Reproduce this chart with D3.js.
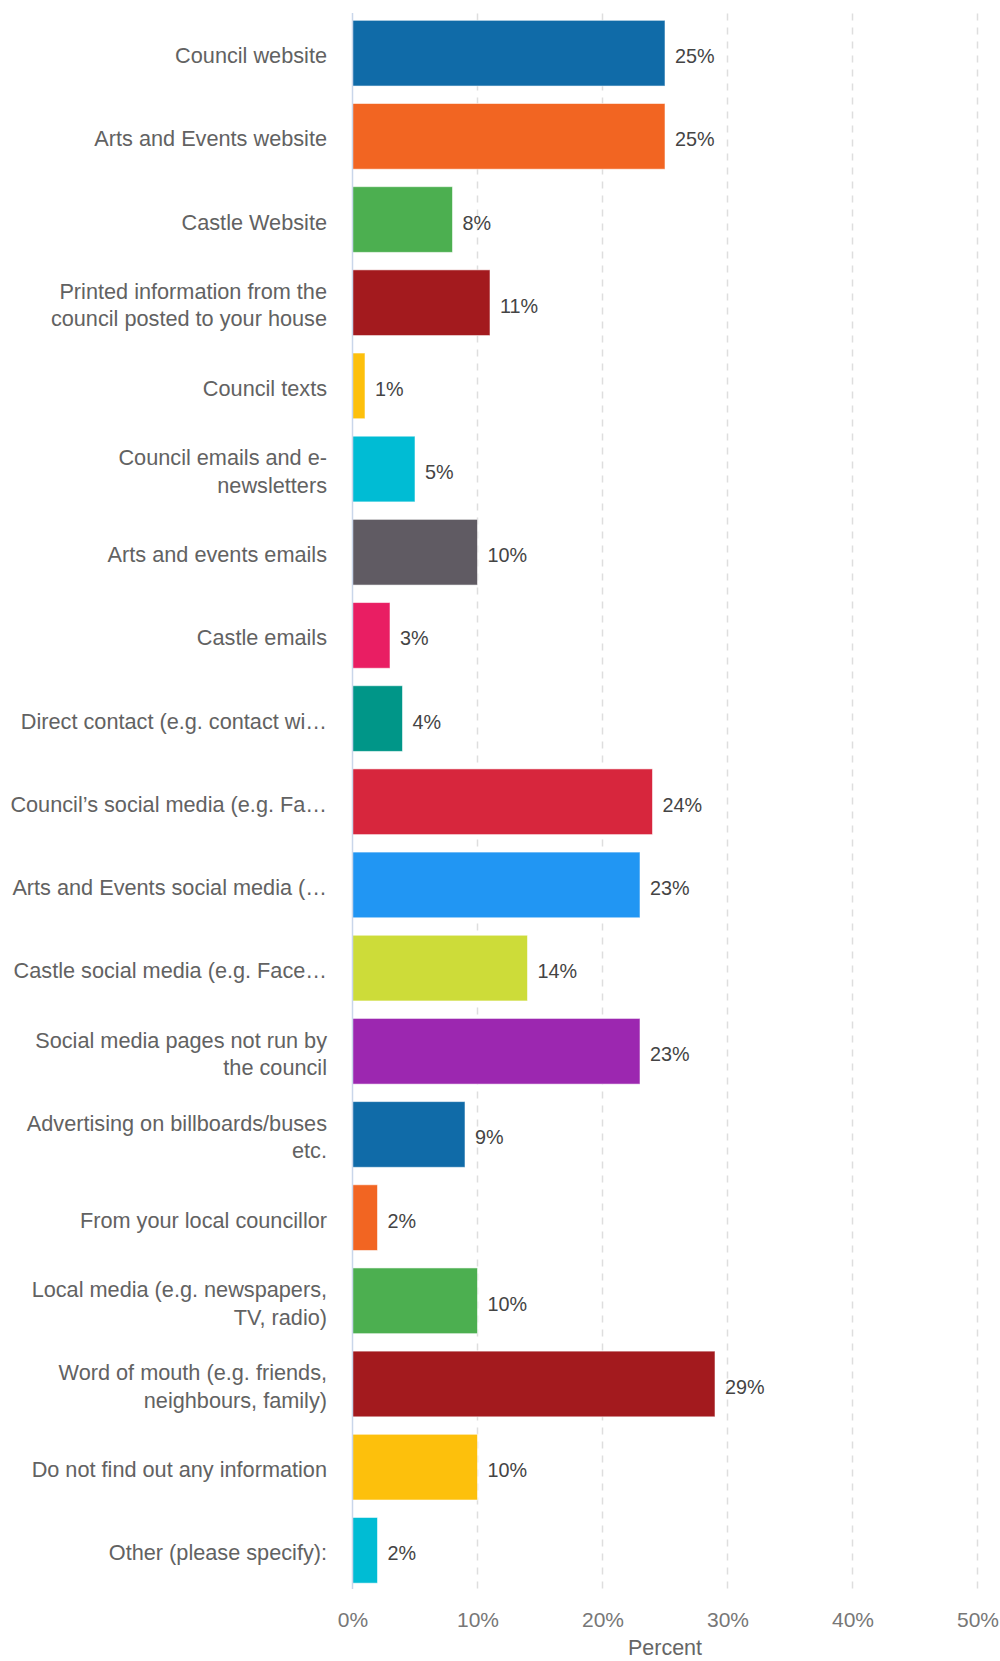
<!DOCTYPE html>
<html>
<head>
<meta charset="utf-8">
<script src="https://cdn.jsdelivr.net/npm/d3@7"></script>
<style>
  html, body { margin: 0; padding: 0; background: #fff; }
  svg { display: block; font-family: "Liberation Sans", Arial, sans-serif; }
</style>
</head>
<body>
<svg id="chart" width="1000" height="1661"></svg>
<script>
// Survey: where respondents find out information (percent of respondents)
const categories = [
  "Council website",
  "Arts and Events website",
  "Castle Website",
  "Printed information from the\ncouncil posted to your house",
  "Council texts",
  "Council emails and e-\nnewsletters",
  "Arts and events emails",
  "Castle emails",
  "Direct contact (e.g. contact wi\u2026",
  "Council\u2019s social media (e.g. Fa\u2026",
  "Arts and Events social media (\u2026",
  "Castle social media (e.g. Face\u2026",
  "Social media pages not run by\nthe council",
  "Advertising on billboards/buses\netc.",
  "From your local councillor",
  "Local media (e.g. newspapers,\nTV, radio)",
  "Word of mouth (e.g. friends,\nneighbours, family)",
  "Do not find out any information",
  "Other (please specify):"
];
const values = [25, 25, 8, 11, 1, 5, 10, 3, 4, 24, 23, 14, 23, 9, 2, 10, 29, 10, 2];
const palette = [
  "#106ba8", "#f26522", "#4caf50", "#a31a1e", "#fdc00c", "#00bcd4",
  "#605b63", "#e91e63", "#009688", "#d7263d", "#2196f3", "#cddc39", "#9c27b0"
];
const xTicks = [0, 10, 20, 30, 40, 50];
const xTitle = "Percent";

const svg = d3.select("#chart");
const plotLeft = 352.5, plotRight = 977.5, plotTop = 14.5, plotBottom = 1589;

const x = d3.scaleLinear().domain([0, 50]).range([plotLeft, plotRight]);
const y = d3.scaleBand()
  .domain(d3.range(categories.length))
  .range([plotTop, plotBottom])
  .paddingInner(0.21)
  .paddingOuter(0.07);
const color = d3.scaleOrdinal().domain(d3.range(palette.length)).range(palette);

// dashed vertical gridlines
svg.append("g")
  .selectAll("line")
  .data(xTicks.filter(t => t > 0))
  .join("line")
  .attr("x1", d => x(d)).attr("x2", d => x(d))
  .attr("y1", plotTop - 1).attr("y2", plotBottom)
  .attr("stroke", "#dedede")
  .attr("stroke-width", 1.5)
  .attr("stroke-dasharray", "7,7");

// bars
svg.append("g")
  .selectAll("rect")
  .data(values)
  .join("rect")
  .attr("x", x(0))
  .attr("y", (d, i) => y(i))
  .attr("width", d => x(d) - x(0))
  .attr("height", y.bandwidth())
  .attr("fill", (d, i) => color(i % palette.length))
  .attr("stroke", "rgba(255,255,255,0.55)")
  .attr("stroke-width", 1);

// zero baseline
svg.append("line")
  .attr("x1", x(0)).attr("x2", x(0))
  .attr("y1", plotTop - 1.5).attr("y2", plotBottom)
  .attr("stroke", "#c9d6ea")
  .attr("stroke-width", 1.5);

// value labels
svg.append("g")
  .selectAll("text")
  .data(values)
  .join("text")
  .attr("x", d => x(d) + 10)
  .attr("y", (d, i) => y(i) + y.bandwidth() / 2 + 3)
  .attr("dominant-baseline", "central")
  .attr("font-size", 19.8)
  .attr("fill", "#444")
  .text(d => d + "%");

// category labels (may span two lines)
const lineH = 27.5;
svg.append("g")
  .selectAll("text")
  .data(categories)
  .join("text")
  .attr("text-anchor", "end")
  .attr("font-size", 21.7)
  .attr("fill", "#626262")
  .each(function (d, i) {
    const lines = d.split("\n");
    const cy = y(i) + y.bandwidth() / 2 + 2.5;
    const t = d3.select(this);
    lines.forEach((ln, k) => {
      t.append("tspan")
        .attr("x", 327)
        .attr("y", cy + (k - (lines.length - 1) / 2) * lineH)
        .attr("dominant-baseline", "central")
        .text(ln);
    });
  });

// x axis tick labels
const xAxis = d3.axisBottom(x)
  .tickValues(xTicks)
  .tickFormat(d => d + "%")
  .tickSize(0)
  .tickPadding(0);
const ax = svg.append("g").attr("transform", `translate(0,${plotBottom})`).call(xAxis);
ax.select(".domain").remove();
ax.selectAll("text")
  .attr("y", 30)
  .attr("dy", null)
  .attr("dominant-baseline", "central")
  .attr("font-size", 21)
  .attr("font-family", "\"Liberation Sans\", Arial, sans-serif")
  .attr("fill", "#777");

// axis title
svg.append("text")
  .attr("x", (plotLeft + plotRight) / 2)
  .attr("y", 1648)
  .attr("text-anchor", "middle")
  .attr("dominant-baseline", "central")
  .attr("font-size", 21.5)
  .attr("fill", "#666")
  .text(xTitle);
</script>
</body>
</html>
